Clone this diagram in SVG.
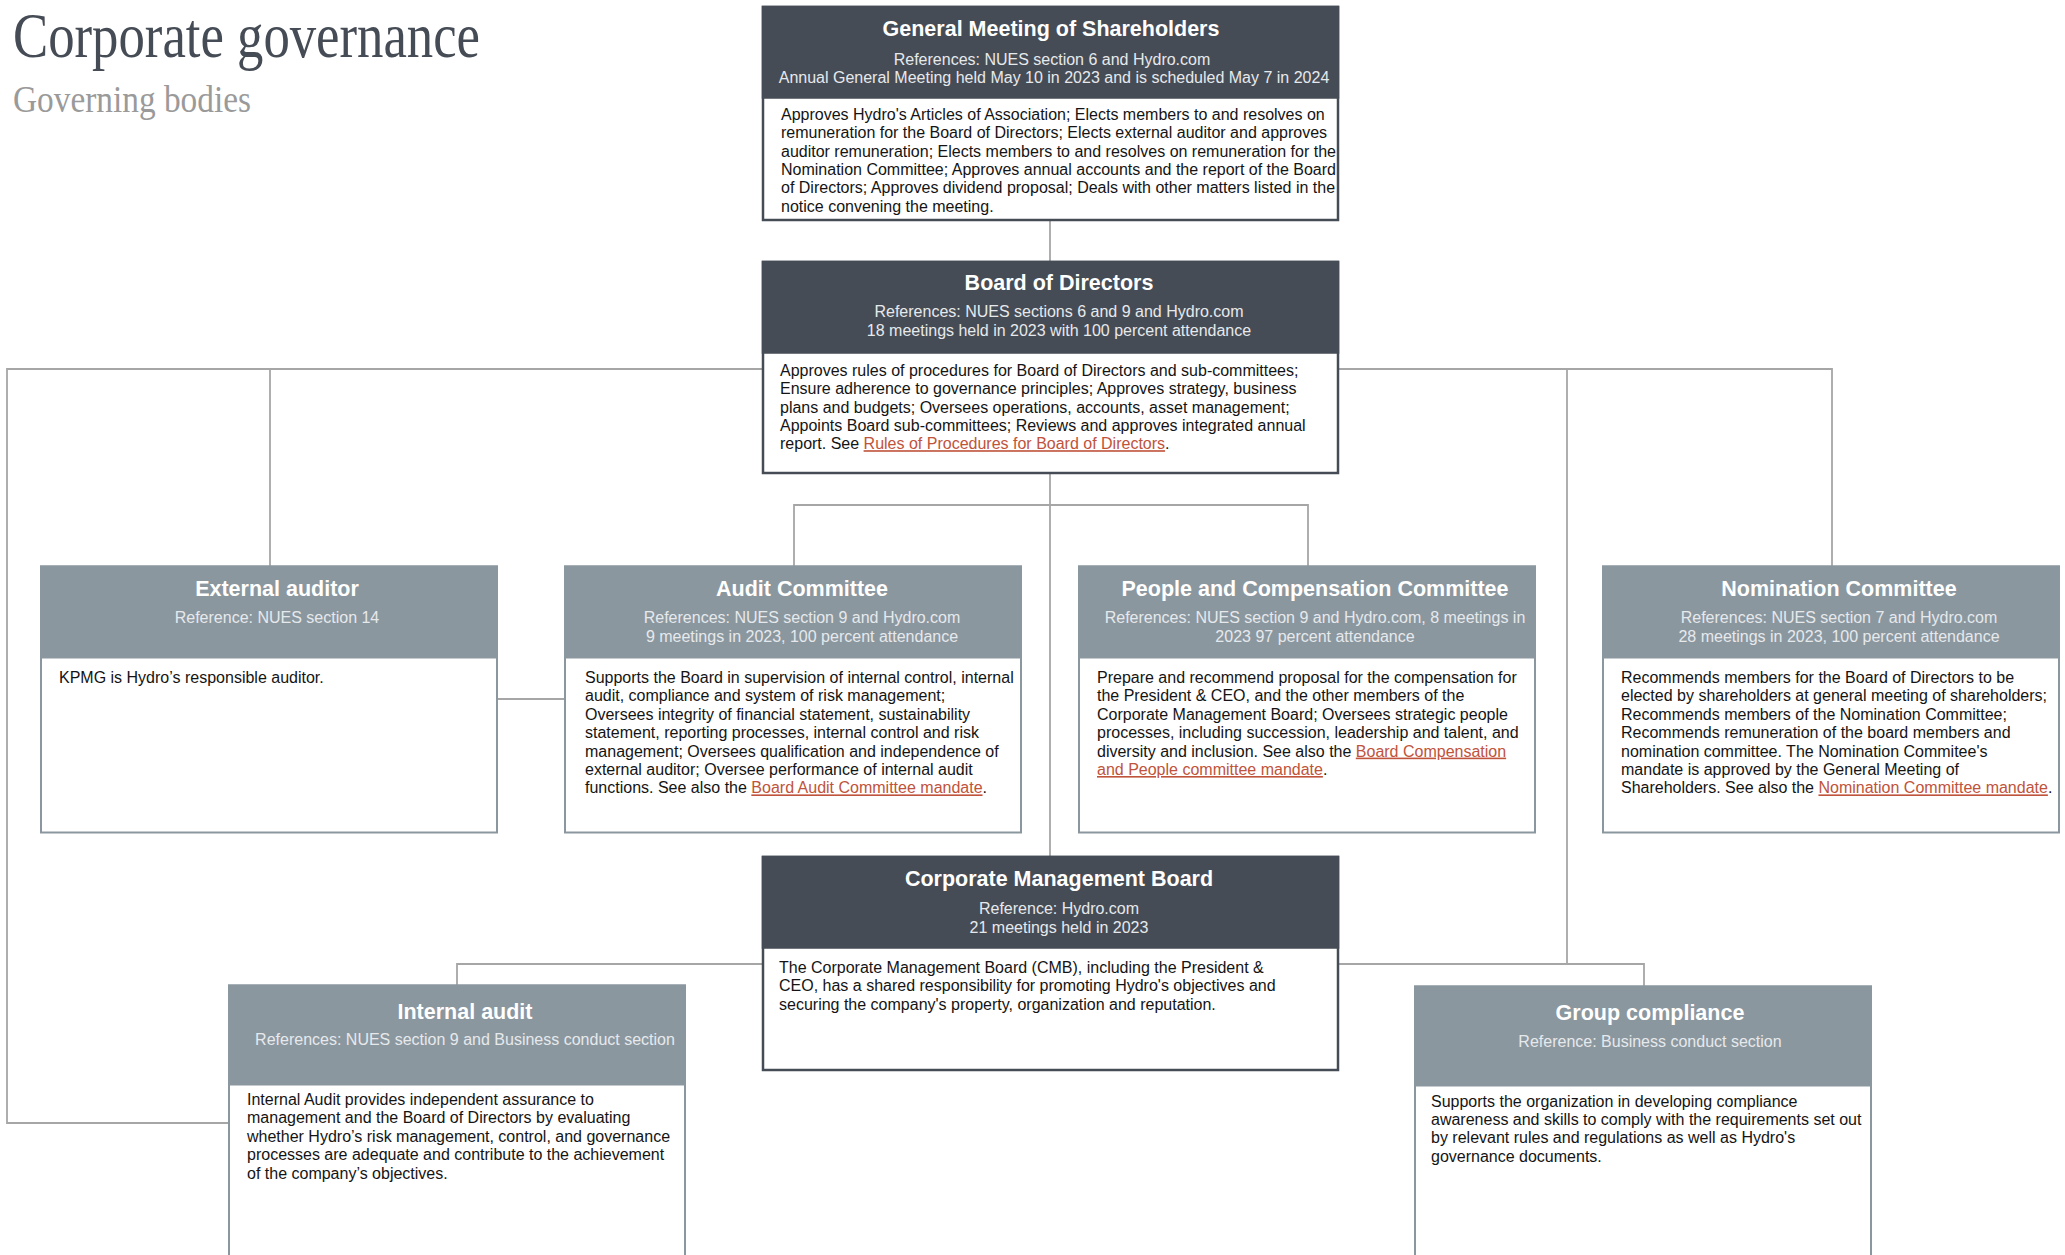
<svg xmlns="http://www.w3.org/2000/svg" width="2065" height="1255" viewBox="0 0 2065 1255">
<style>
.bg{fill:#ffffff}
.boxd{fill:#ffffff;stroke:#464c55;stroke-width:2.5}
.boxl{fill:#ffffff;stroke:#8b979f;stroke-width:2}
.hdd{fill:#464c55}
.hdl{fill:#8b979f}
.t{font-family:"Liberation Sans",Arial,sans-serif;font-weight:bold;font-size:21.5px;fill:#ffffff;text-anchor:middle}
.r{font-family:"Liberation Sans",Arial,sans-serif;font-size:16px;fill:#e6e9ec;text-anchor:middle}
.b{font-family:"Liberation Sans",Arial,sans-serif;font-size:16px;fill:#141414}
.lk{fill:#c0533b;text-decoration:underline}
.conn{stroke:#a6a6a6;stroke-width:1.8;fill:none}
.h1{font-family:"Liberation Serif","Times New Roman",serif;font-size:64px;fill:#464c55}
.h2{font-family:"Liberation Serif","Times New Roman",serif;font-size:38px;fill:#9a9a9a}
</style>
<rect class="bg" x="0" y="0" width="2065" height="1255"/>

<g id="heading">
<text class="h1" x="13" y="57" textLength="467" lengthAdjust="spacingAndGlyphs">Corporate governance</text>
<text class="h2" x="13" y="112" textLength="238" lengthAdjust="spacingAndGlyphs">Governing bodies</text>
</g>

<g id="connectors">
<path class="conn" d="M1050 220V262"/>
<path class="conn" d="M763 369H7V1123H229"/>
<path class="conn" d="M270 369V566"/>
<path class="conn" d="M1338 369H1832V566"/>
<path class="conn" d="M1567 369V964"/>
<path class="conn" d="M1050 473V857"/>
<path class="conn" d="M794 566V505H1308V566"/>
<path class="conn" d="M497 699H565"/>
<path class="conn" d="M763 964H457V985"/>
<path class="conn" d="M1338 964H1644V986"/>
</g>

<g id="general-meeting">
<rect class="boxd" x="763" y="7" width="575" height="213"/>
<rect class="hdd" x="761.75" y="5.75" width="577.5" height="93"/>
<text class="t" x="1051" y="36">General Meeting of Shareholders</text>
<text class="r" x="1052" y="64.5">References: NUES section 6 and Hydro.com</text>
<text class="r" x="1054" y="83">Annual General Meeting held May 10 in 2023 and is scheduled May 7 in 2024</text>
<text class="b" x="781" y="120">Approves Hydro's Articles of Association; Elects members to and resolves on</text>
<text class="b" x="781" y="138.3">remuneration for the Board of Directors; Elects external auditor and approves</text>
<text class="b" x="781" y="156.6">auditor remuneration; Elects members to and resolves on remuneration for the</text>
<text class="b" x="781" y="174.9">Nomination Committee; Approves annual accounts and the report of the Board</text>
<text class="b" x="781" y="193.2">of Directors; Approves dividend proposal; Deals with other matters listed in the</text>
<text class="b" x="781" y="211.5">notice convening the meeting.</text>
</g>

<g id="board-of-directors">
<rect class="boxd" x="763" y="262" width="575" height="211"/>
<rect class="hdd" x="761.75" y="260.75" width="577.5" height="93"/>
<text class="t" x="1059" y="290">Board of Directors</text>
<text class="r" x="1059" y="317">References: NUES sections 6 and 9 and Hydro.com</text>
<text class="r" x="1059" y="336">18 meetings held in 2023 with 100 percent attendance</text>
<text class="b" x="780" y="376">Approves rules of procedures for Board of Directors and sub-committees;</text>
<text class="b" x="780" y="394.3">Ensure adherence to governance principles; Approves strategy, business</text>
<text class="b" x="780" y="412.6">plans and budgets; Oversees operations, accounts, asset management;</text>
<text class="b" x="780" y="430.9">Appoints Board sub-committees; Reviews and approves integrated annual</text>
<text class="b" x="780" y="449.2">report. See <tspan class="lk">Rules of Procedures for Board of Directors</tspan>.</text>
</g>

<g id="external-auditor">
<rect class="boxl" x="41" y="566.5" width="456" height="266"/>
<rect class="hdl" x="40" y="565.5" width="458" height="93"/>
<text class="t" x="277" y="596">External auditor</text>
<text class="r" x="277" y="623">Reference: NUES section 14</text>
<text class="b" x="59" y="683">KPMG is Hydro’s responsible auditor.</text>
</g>

<g id="audit-committee">
<rect class="boxl" x="565" y="566.5" width="456" height="266"/>
<rect class="hdl" x="564" y="565.5" width="458" height="93"/>
<text class="t" x="802" y="596">Audit Committee</text>
<text class="r" x="802" y="623">References: NUES section 9 and Hydro.com</text>
<text class="r" x="802" y="642">9 meetings in 2023, 100 percent attendance</text>
<text class="b" x="585" y="683">Supports the Board in supervision of internal control, internal</text>
<text class="b" x="585" y="701.4">audit, compliance and system of risk management;</text>
<text class="b" x="585" y="719.8">Oversees integrity of financial statement, sustainability</text>
<text class="b" x="585" y="738.2">statement, reporting processes, internal control and risk</text>
<text class="b" x="585" y="756.6">management; Oversees qualification and independence of</text>
<text class="b" x="585" y="775">external auditor; Oversee performance of internal audit</text>
<text class="b" x="585" y="793.4">functions. See also the <tspan class="lk">Board Audit Committee mandate</tspan>.</text>
</g>

<g id="people-compensation-committee">
<rect class="boxl" x="1079" y="566.5" width="456" height="266"/>
<rect class="hdl" x="1078" y="565.5" width="458" height="93"/>
<text class="t" x="1315" y="596">People and Compensation Committee</text>
<text class="r" x="1315" y="623">References: NUES section 9 and Hydro.com, 8 meetings in</text>
<text class="r" x="1315" y="642">2023 97 percent attendance</text>
<text class="b" x="1097" y="683">Prepare and recommend proposal for the compensation for</text>
<text class="b" x="1097" y="701.4">the President &amp; CEO, and the other members of the</text>
<text class="b" x="1097" y="719.8">Corporate Management Board; Oversees strategic people</text>
<text class="b" x="1097" y="738.2">processes, including succession, leadership and talent, and</text>
<text class="b" x="1097" y="756.6">diversity and inclusion. See also the <tspan class="lk">Board Compensation</tspan></text>
<text class="b" x="1097" y="775"><tspan class="lk">and People committee mandate</tspan>.</text>
</g>

<g id="nomination-committee">
<rect class="boxl" x="1603" y="566.5" width="456" height="266"/>
<rect class="hdl" x="1602" y="565.5" width="458" height="93"/>
<text class="t" x="1839" y="596">Nomination Committee</text>
<text class="r" x="1839" y="623">References: NUES section 7 and Hydro.com</text>
<text class="r" x="1839" y="642">28 meetings in 2023, 100 percent attendance</text>
<text class="b" x="1621" y="683">Recommends members for the Board of Directors to be</text>
<text class="b" x="1621" y="701.4">elected by shareholders at general meeting of shareholders;</text>
<text class="b" x="1621" y="719.8">Recommends members of the Nomination Committee;</text>
<text class="b" x="1621" y="738.2">Recommends remuneration of the board members and</text>
<text class="b" x="1621" y="756.6">nomination committee. The Nomination Commitee's</text>
<text class="b" x="1621" y="775">mandate is approved by the General Meeting of</text>
<text class="b" x="1621" y="793.4">Shareholders. See also the <tspan class="lk">Nomination Committee mandate</tspan>.</text>
</g>

<g id="corporate-management-board">
<rect class="boxd" x="763" y="857" width="575" height="213"/>
<rect class="hdd" x="761.75" y="855.75" width="577.5" height="93"/>
<text class="t" x="1059" y="886">Corporate Management Board</text>
<text class="r" x="1059" y="914">Reference: Hydro.com</text>
<text class="r" x="1059" y="933">21 meetings held in 2023</text>
<text class="b" x="779" y="973">The Corporate Management Board (CMB), including the President &amp;</text>
<text class="b" x="779" y="991.4">CEO, has a shared responsibility for promoting Hydro's objectives and</text>
<text class="b" x="779" y="1009.8">securing the company's property, organization and reputation.</text>
</g>

<g id="internal-audit">
<rect class="boxl" x="229" y="985.5" width="456" height="300"/>
<rect class="hdl" x="228" y="984.5" width="458" height="101"/>
<text class="t" x="465" y="1019">Internal audit</text>
<text class="r" x="465" y="1045">References: NUES section 9 and Business conduct section</text>
<text class="b" x="247" y="1105">Internal Audit provides independent assurance to</text>
<text class="b" x="247" y="1123.4">management and the Board of Directors by evaluating</text>
<text class="b" x="247" y="1141.8">whether Hydro’s risk management, control, and governance</text>
<text class="b" x="247" y="1160.2">processes are adequate and contribute to the achievement</text>
<text class="b" x="247" y="1178.6">of the company’s objectives.</text>
</g>

<g id="group-compliance">
<rect class="boxl" x="1415" y="986.5" width="456" height="300"/>
<rect class="hdl" x="1414" y="985.5" width="458" height="101"/>
<text class="t" x="1650" y="1020">Group compliance</text>
<text class="r" x="1650" y="1047">Reference: Business conduct section</text>
<text class="b" x="1431" y="1106.5">Supports the organization in developing compliance</text>
<text class="b" x="1431" y="1124.9">awareness and skills to comply with the requirements set out</text>
<text class="b" x="1431" y="1143.3">by relevant rules and regulations as well as Hydro's</text>
<text class="b" x="1431" y="1161.7">governance documents.</text>
</g>
</svg>
